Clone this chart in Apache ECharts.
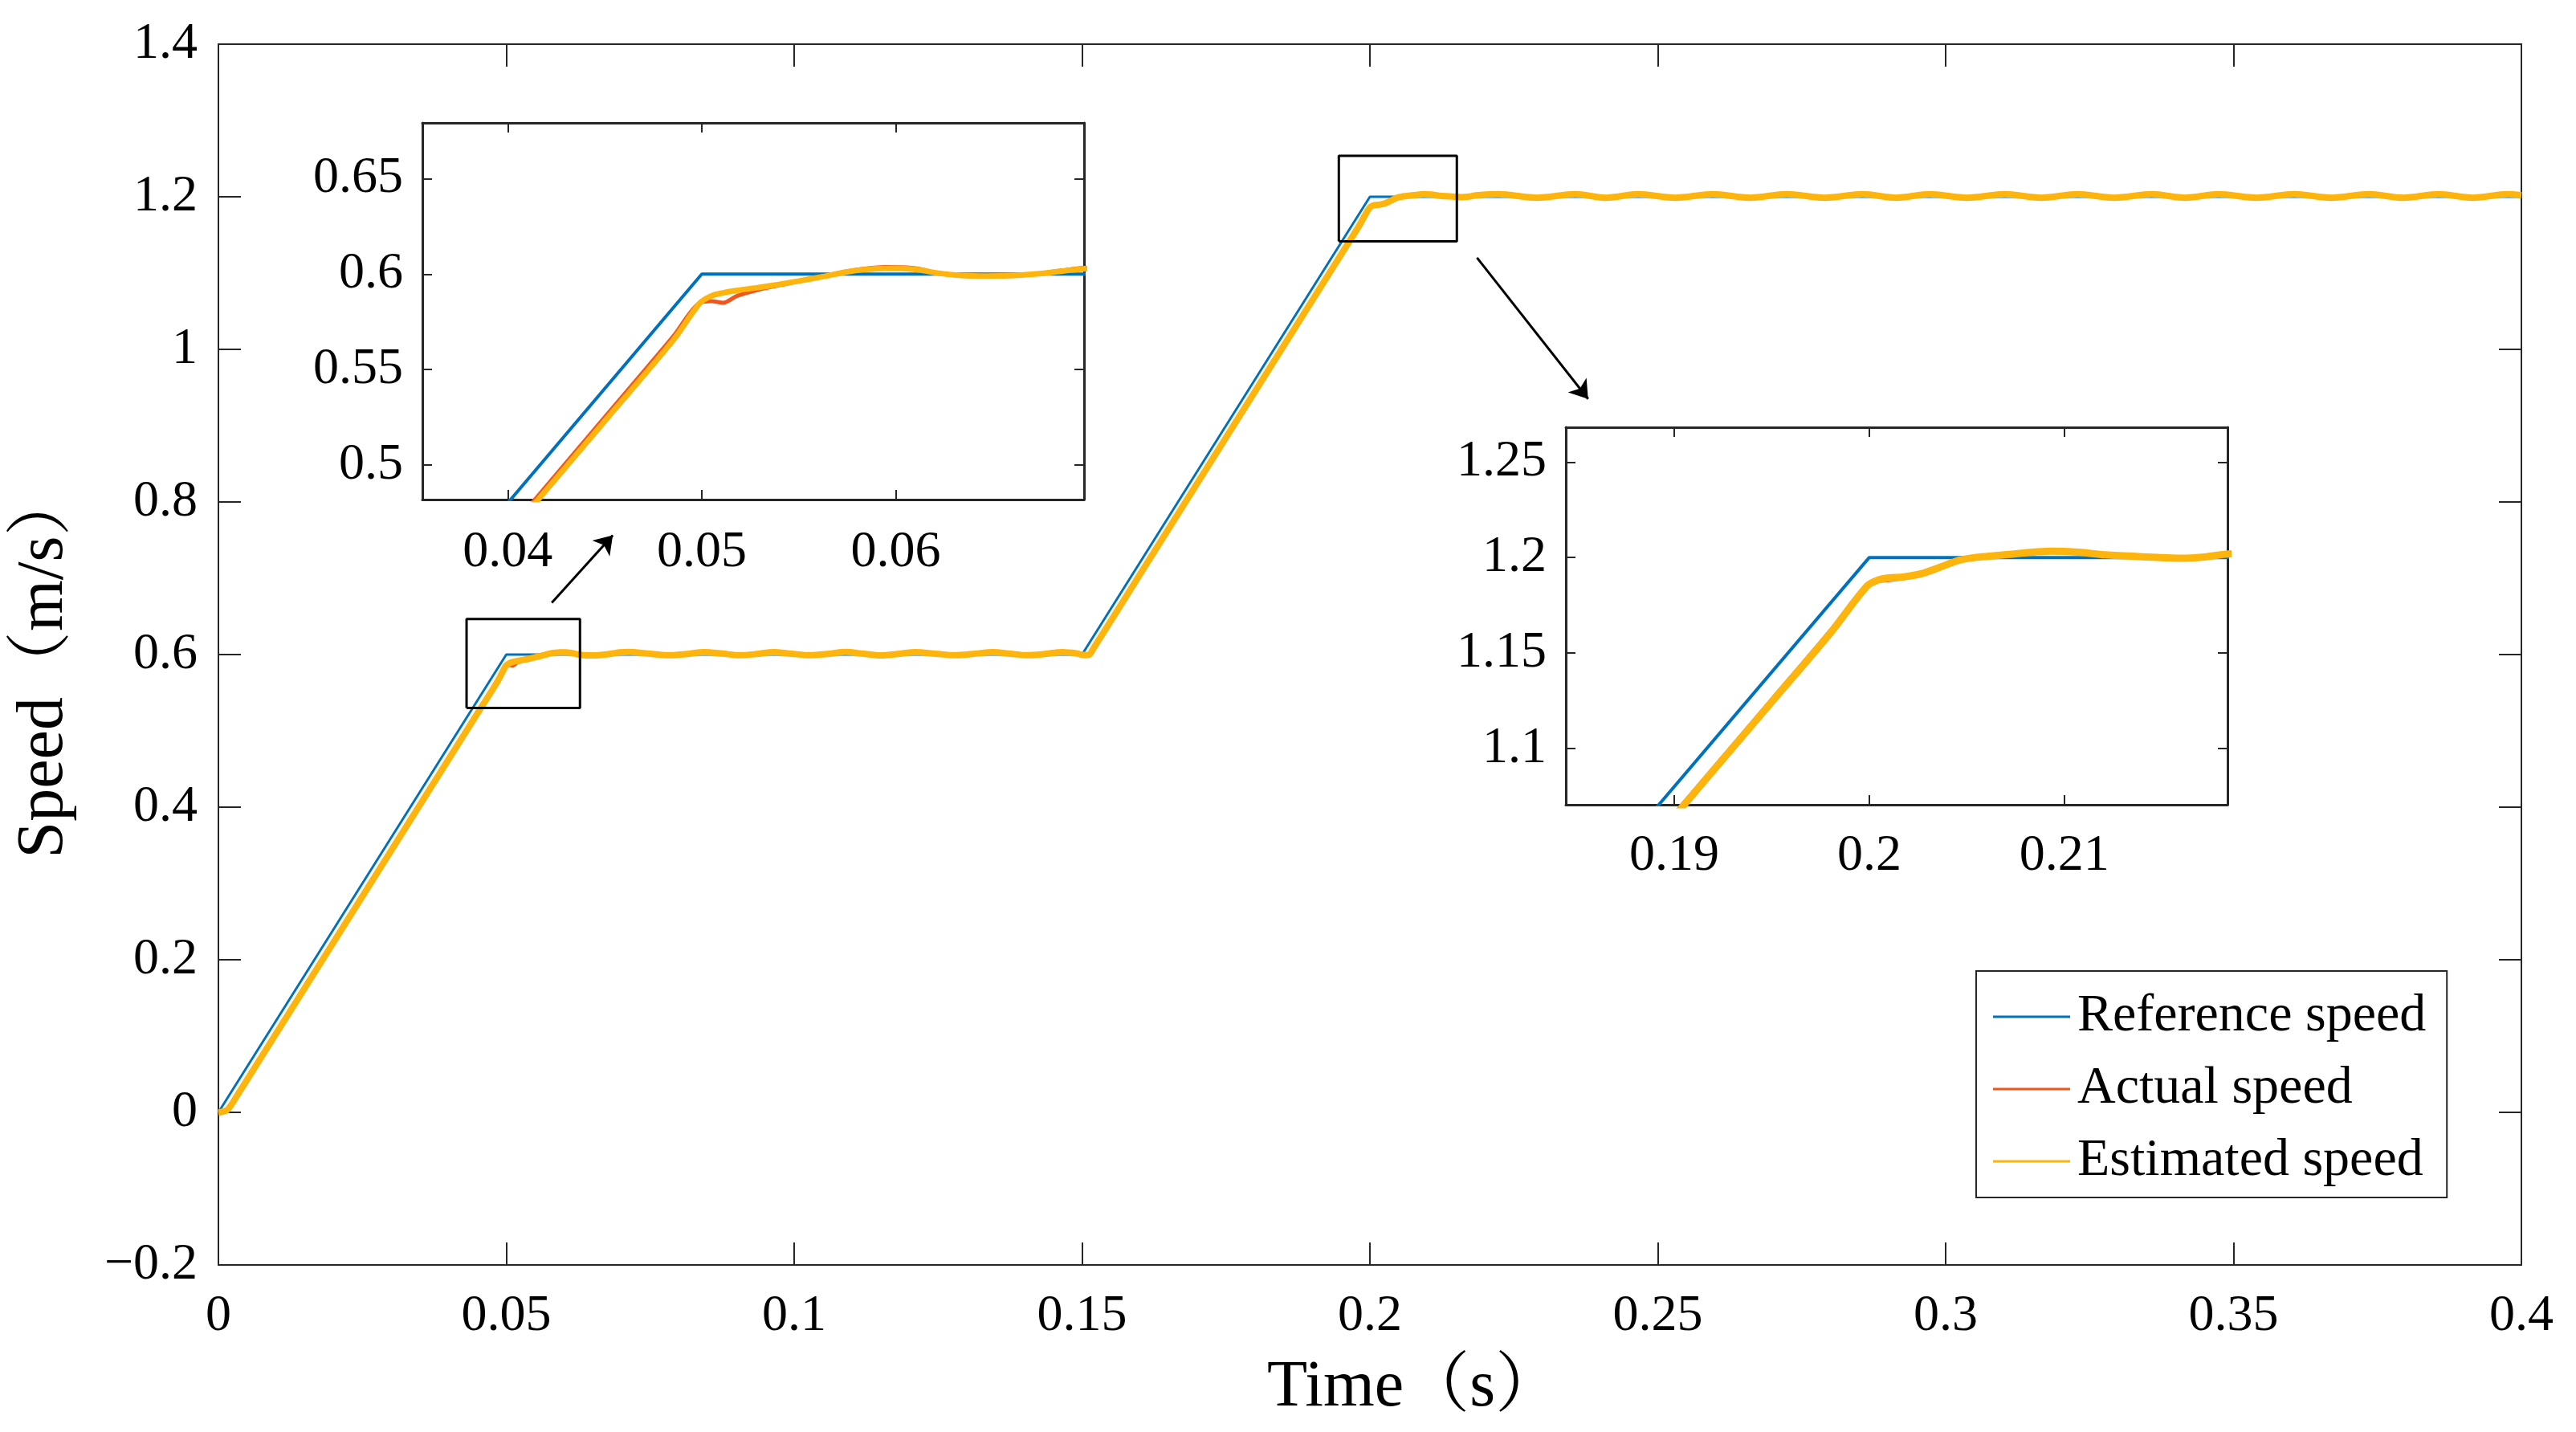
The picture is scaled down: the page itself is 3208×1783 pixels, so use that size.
<!DOCTYPE html>
<html>
<head>
<meta charset="utf-8">
<title>Speed</title>
<script src="https://cdn.jsdelivr.net/npm/echarts@6/dist/echarts.min.js"></script>
<style>
html,body{margin:0;padding:0;background:#fff;}
#speedChart{width:3208px;height:1783px;}
</style>
</head>
<body>
<div id="speedChart"></div>
<script>
// reference speed (piecewise ramp)
var timeRef = [0, 0.05, 0.15, 0.2, 0.4];
var speedRef = [0, 0.6, 0.6, 1.2, 1.2];

// sample times shared by actual and estimated speed
var timeSim = [
	0, 0.0015, 0.003, 0.01, 0.02, 0.03, 0.04, 0.045, 0.0485, 0.0499,
	0.0505, 0.0511, 0.0518, 0.0528, 0.0539, 0.055, 0.0563, 0.0575, 0.0585, 0.0594,
	0.0603, 0.0612, 0.0622, 0.0634, 0.0647, 0.0661, 0.0674, 0.0686, 0.0697, 0.0713,
	0.0745, 0.078, 0.081, 0.0844, 0.0875, 0.0905, 0.0935, 0.0964, 0.0995, 0.1027,
	0.1058, 0.1089, 0.112, 0.115, 0.118, 0.1211, 0.1245, 0.128, 0.131, 0.1346,
	0.1375, 0.1405, 0.1435, 0.1466, 0.149, 0.1502, 0.1512, 0.152, 0.16, 0.17,
	0.18, 0.19, 0.195, 0.198, 0.1999, 0.2005, 0.201, 0.2018, 0.2027, 0.2036,
	0.2046, 0.2055, 0.2065, 0.208, 0.2093, 0.2107, 0.2121, 0.2143, 0.216, 0.2172,
	0.2184, 0.2224, 0.229, 0.2357, 0.241, 0.2466, 0.253, 0.2596, 0.266, 0.2724,
	0.279, 0.2856, 0.2914, 0.2972, 0.3037, 0.3103, 0.3166, 0.3229, 0.3293, 0.3358,
	0.3416, 0.3474, 0.354, 0.3605, 0.367, 0.3735, 0.3795, 0.3856, 0.3916, 0.3976,
	0.4
];
var speedActual = [
	0, 0.004, 0.021, 0.105, 0.225, 0.345, 0.465, 0.525, 0.567, 0.585,
	0.5858, 0.585, 0.5885, 0.5915, 0.594, 0.5962, 0.599, 0.6015, 0.603, 0.6037,
	0.6036, 0.6028, 0.6003, 0.5991, 0.5988, 0.5991, 0.6003, 0.602, 0.6033, 0.6038,
	0.6015, 0.5988, 0.6005, 0.6036, 0.6015, 0.5989, 0.6008, 0.6035, 0.6012, 0.5988,
	0.6008, 0.6037, 0.6012, 0.5987, 0.6008, 0.6036, 0.6012, 0.5988, 0.6008, 0.6035,
	0.6012, 0.5988, 0.6008, 0.6036, 0.6018, 0.5995, 0.6, 0.6096, 0.7056, 0.8256,
	0.9456, 1.0656, 1.1256, 1.1616, 1.186, 1.1876, 1.1882, 1.1892, 1.1912, 1.1945,
	1.1982, 1.2, 1.2012, 1.2026, 1.2036, 1.203, 1.2016, 1.2003, 1.1995, 1.2002,
	1.202, 1.2036, 1.1986, 1.2037, 1.1985, 1.2035, 1.1986, 1.2036, 1.1987, 1.2036,
	1.1986, 1.2037, 1.1986, 1.2035, 1.1985, 1.2036, 1.1986, 1.2037, 1.1986, 1.2036,
	1.1987, 1.2036, 1.1986, 1.2035, 1.1986, 1.2037, 1.1985, 1.2036, 1.1986, 1.2036,
	1.2022
];
var speedEstimated = [
	0, 0.003, 0.019, 0.103, 0.223, 0.343, 0.463, 0.523, 0.565, 0.5848,
	0.5886, 0.5902, 0.5914, 0.5928, 0.5945, 0.5964, 0.5988, 0.6012, 0.6025, 0.603,
	0.603, 0.6022, 0.6005, 0.5993, 0.599, 0.5993, 0.6002, 0.6016, 0.6028, 0.6033,
	0.6013, 0.5991, 0.6005, 0.6032, 0.6013, 0.5991, 0.6007, 0.6032, 0.6011, 0.5991,
	0.6007, 0.6033, 0.6011, 0.599, 0.6007, 0.6032, 0.6011, 0.5991, 0.6007, 0.6032,
	0.6011, 0.5991, 0.6007, 0.6032, 0.6016, 0.5996, 0.5998, 0.6082, 0.7044, 0.8244,
	0.9444, 1.0644, 1.1244, 1.1604, 1.1852, 1.1884, 1.1893, 1.1899, 1.1916, 1.1948,
	1.1985, 1.2001, 1.201, 1.2024, 1.2033, 1.2028, 1.2014, 1.2003, 1.1996, 1.2003,
	1.2018, 1.2033, 1.1988, 1.2034, 1.1987, 1.2033, 1.1988, 1.2033, 1.1988, 1.2034,
	1.1988, 1.2033, 1.1988, 1.2033, 1.1987, 1.2033, 1.1988, 1.2034, 1.1988, 1.2033,
	1.1988, 1.2033, 1.1988, 1.2033, 1.1988, 1.2034, 1.1987, 1.2033, 1.1988, 1.2033,
	1.202
];

// zoom boxes drawn on the main axes, and arrows to the insets
var zoomBox1 = [[0.0431, 0.530], [0.0628, 0.530], [0.0628, 0.6465], [0.0431, 0.6465], [0.0431, 0.530]];
var zoomBox2 = [[0.1946, 1.1417], [0.2151, 1.1417], [0.2151, 1.2536], [0.1946, 1.2536], [0.1946, 1.1417]];
var arrow1 = [[0.0579, 0.668], [0.0685, 0.7563]];
var arrow2 = [[0.2186, 1.1201], [0.2379, 0.935]];

// inset limits and ticks
var inset1X = [0.0356, 0.0697], inset1Y = [0.4818, 0.6793];
var inset1XTicks = [0.04, 0.05, 0.06], inset1YTicks = [0.5, 0.55, 0.6, 0.65];
var inset2X = [0.18444, 0.21837], inset2Y = [1.0705, 1.2682];
var inset2XTicks = [0.19, 0.2, 0.21], inset2YTicks = [1.1, 1.15, 1.2, 1.25];

var seriesNames = ['Reference speed', 'Actual speed', 'Estimated speed'];
var seriesColors = ['#0072BD', '#F0561C', '#FDB40C'];

var fontFamily = '"Liberation Serif", "Times New Roman", "Noto Serif CJK SC", "Noto Sans CJK SC", serif';
var axisColor = '#262626';

function zip(xs, ys){
	var out = [];
	for (var i = 0; i < xs.length; i++) {
		out.push([xs[i], ys[i]]);
	}
	return out;
}

var refData = zip(timeRef, speedRef);
var actData = zip(timeSim, speedActual);
var estData = zip(timeSim, speedEstimated);

function fmtMinus(v){
	return v < 0 ? '\u2212' + (-v) : String(v);
}

function makeAxis(opt){
	var ax = {
		type: 'value',
		gridIndex: opt.grid,
		position: opt.position,
		min: opt.min,
		max: opt.max,
		axisLine: {show: true, onZero: false, lineStyle: {color: axisColor, width: opt.lineWidth || 2}},
		axisTick: {show: true, inside: true, length: opt.tickLen, lineStyle: {color: axisColor, width: 2}},
		axisLabel: {
			show: opt.labels,
			margin: opt.margin,
			fontSize: 64,
			fontFamily: fontFamily,
			color: '#000',
			formatter: fmtMinus
		},
		splitLine: {show: false}
	};
	if (opt.interval) {
		ax.interval = opt.interval;
	}
	if (opt.ticks) {
		ax.axisTick.customValues = opt.ticks;
		ax.axisLabel.customValues = opt.ticks;
	}
	return ax;
}

var xAxes = [
	makeAxis({grid: 0, position: 'bottom', min: 0, max: 0.4, interval: 0.05, tickLen: 28, labels: true, margin: 32}),
	makeAxis({grid: 0, position: 'top', min: 0, max: 0.4, interval: 0.05, tickLen: 28, labels: false}),
	makeAxis({grid: 1, position: 'bottom', min: inset1X[0], max: inset1X[1], ticks: inset1XTicks, tickLen: 12, labels: true, margin: 34, lineWidth: 3}),
	makeAxis({grid: 1, position: 'top', min: inset1X[0], max: inset1X[1], ticks: inset1XTicks, tickLen: 12, labels: false, lineWidth: 3}),
	makeAxis({grid: 2, position: 'bottom', min: inset2X[0], max: inset2X[1], ticks: inset2XTicks, tickLen: 12, labels: true, margin: 32, lineWidth: 3}),
	makeAxis({grid: 2, position: 'top', min: inset2X[0], max: inset2X[1], ticks: inset2XTicks, tickLen: 12, labels: false, lineWidth: 3})
];
var yAxes = [
	makeAxis({grid: 0, position: 'left', min: -0.2, max: 1.4, interval: 0.2, tickLen: 28, labels: true, margin: 26}),
	makeAxis({grid: 0, position: 'right', min: -0.2, max: 1.4, interval: 0.2, tickLen: 28, labels: false}),
	makeAxis({grid: 1, position: 'left', min: inset1Y[0], max: inset1Y[1], ticks: inset1YTicks, tickLen: 12, labels: true, margin: 24, lineWidth: 3}),
	makeAxis({grid: 1, position: 'right', min: inset1Y[0], max: inset1Y[1], ticks: inset1YTicks, tickLen: 12, labels: false, lineWidth: 3}),
	makeAxis({grid: 2, position: 'left', min: inset2Y[0], max: inset2Y[1], ticks: inset2YTicks, tickLen: 12, labels: true, margin: 24, lineWidth: 3}),
	makeAxis({grid: 2, position: 'right', min: inset2Y[0], max: inset2Y[1], ticks: inset2YTicks, tickLen: 12, labels: false, lineWidth: 3})
];

xAxes[0].name = 'Time（s）';
xAxes[0].nameLocation = 'middle';
xAxes[0].nameGap = 112;
xAxes[0].nameTextStyle = {fontSize: 82, fontFamily: fontFamily, color: '#000', padding: [0, 0, 0, 110]};
yAxes[0].name = 'Speed（m/s）';
yAxes[0].nameLocation = 'middle';
yAxes[0].nameGap = 176;
yAxes[0].nameTextStyle = {fontSize: 82, fontFamily: fontFamily, color: '#000', padding: [0, 24, 0, 0]};

// the three curves, drawn in each grid (main + two insets)
var widths = [
	[3, 4, 8],
	[4, 5, 7],
	[4, 5, 9]
];
var seriesList = [];
for (var g = 0; g < 3; g++) {
	var sets = [refData, actData, estData];
	for (var s = 0; s < 3; s++) {
		seriesList.push({
			name: seriesNames[s],
			type: 'line',
			xAxisIndex: g * 2,
			yAxisIndex: g * 2,
			data: sets[s],
			symbol: 'none',
			smooth: s === 0 ? false : 0.3,
			clip: true,
			silent: true,
			z: 2 + s + g * 5,
			lineStyle: {color: seriesColors[s], width: widths[g][s]},
			itemStyle: {color: seriesColors[s]}
		});
	}
}

// zoom boxes and arrows
seriesList.push({
	type: 'line', xAxisIndex: 0, yAxisIndex: 0, data: zoomBox1, symbol: 'none', silent: true, z: 10,
	lineStyle: {color: '#000', width: 3}
});
seriesList.push({
	type: 'line', xAxisIndex: 0, yAxisIndex: 0, data: zoomBox2, symbol: 'none', silent: true, z: 10,
	lineStyle: {color: '#000', width: 3}
});
seriesList.push({
	type: 'lines',
	coordinateSystem: 'cartesian2d',
	xAxisIndex: 0,
	yAxisIndex: 0,
	symbol: ['none', 'arrow'],
	symbolSize: 22,
	silent: true,
	z: 10,
	lineStyle: {color: '#000', width: 3, opacity: 1, curveness: 0},
	data: [{coords: arrow1}, {coords: arrow2}]
});

var speedChart = echarts.init(document.getElementById('speedChart'), null, {renderer: 'canvas'});
var option = {
	backgroundColor: '#fff',
	animation: false,
	grid: [
		{left: 272, top: 55, width: 2868, height: 1520},
		{left: 526, top: 153, width: 824, height: 469, show: true, backgroundColor: '#fff', borderWidth: 0},
		{left: 1950, top: 532, width: 824, height: 470, show: true, backgroundColor: '#fff', borderWidth: 0}
	],
	legend: {
		data: seriesNames,
		orient: 'vertical',
		left: 2461,
		top: 1209,
		padding: [24, 26, 12, 21],
		itemGap: 24,
		itemWidth: 96,
		itemHeight: 3,
		icon: 'rect',
		borderColor: axisColor,
		borderWidth: 2,
		backgroundColor: '#fff',
		textStyle: {fontSize: 66, fontFamily: fontFamily, color: '#000', padding: [0, 0, 0, 4]}
	},
	xAxis: xAxes,
	yAxis: yAxes,
	series: seriesList
};
speedChart.setOption(option);
</script>
</body>
</html>
